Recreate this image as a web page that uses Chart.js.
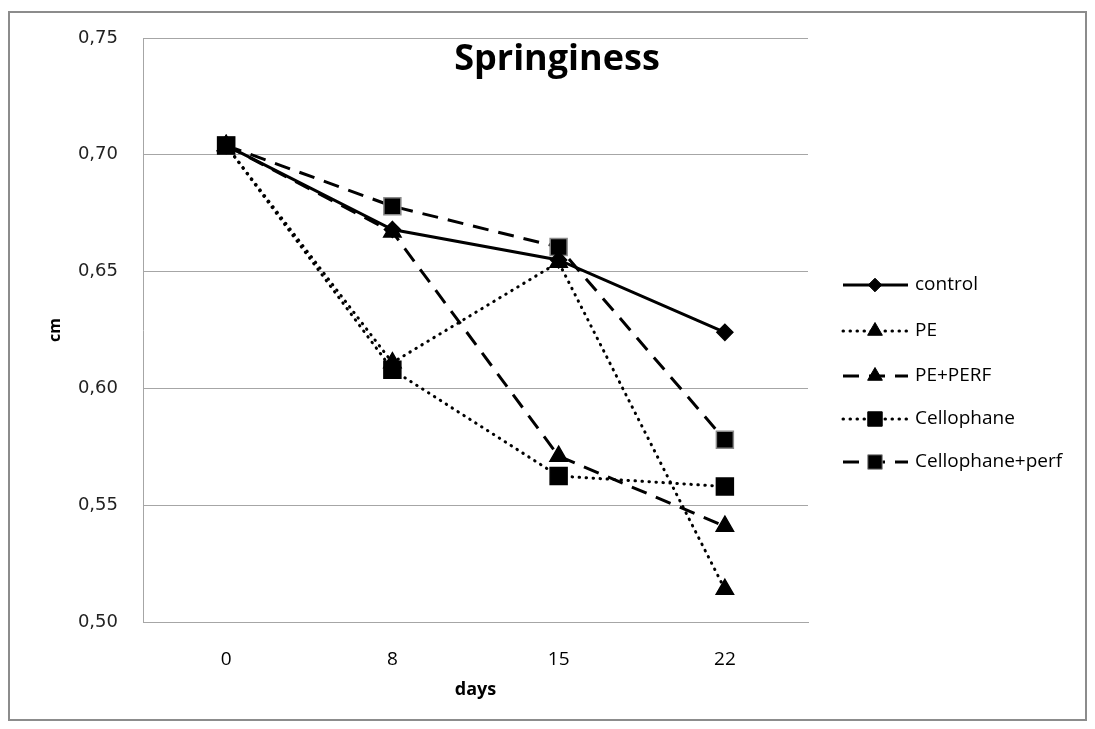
<!DOCTYPE html>
<html>
<head>
<meta charset="utf-8">
<script src="https://cdn.jsdelivr.net/npm/chart.js@4"></script>
<style>
  html, body { margin: 0; padding: 0; background: #fff; overflow: hidden; }
  #wrap { position: relative; width: 1095px; height: 729px; }
</style>
</head>
<body>
<div id="wrap"><canvas id="springiness" width="1095" height="729"></canvas></div>
<script>
    // Data

    const days = ['0', '8', '15', '22'];
    const control = [0.704, 0.668, 0.655, 0.624];
    const pe = [0.704, 0.611, 0.654, 0.514];
    const pePerf = [0.704, 0.667, 0.571, 0.541];
    const cellophane = [0.704, 0.608, 0.5625, 0.558];
    const cellophanePerf = [0.704, 0.678, 0.6605, 0.578];
    const seriesNames = ['control', 'PE', 'PE+PERF', 'Cellophane', 'Cellophane+perf'];
    const yMin = 0.5;
    const yMax = 0.75;
    const yStep = 0.05;

    const gridColor = '#a6a6a6';
    const dotted = [0.5, 6.5];
    const dashed = [16, 10];

    function series(label, data, dash, style, radius, edge) {
        return {
            label: label,
            data: data,
            borderColor: '#000',
            borderWidth: 3,
            borderDash: dash,
            borderCapStyle: dash === dotted ? 'round' : 'butt',
            tension: 0,
            pointStyle: style,
            pointRadius: radius,
            pointHoverRadius: radius,
            pointBackgroundColor: '#000',
            pointBorderColor: edge,
            pointBorderWidth: 1.5
        };
    }

    // Plot frame, title and legend drawn straight on the canvas

    const frame = {
        id: 'frame',
        beforeDraw(chart) {
            const ctx = chart.ctx;
            ctx.save();
            ctx.strokeStyle = '#8c8c8c';
            ctx.lineWidth = 2;
            ctx.strokeRect(9, 12, 1077, 708);
            ctx.restore();
        }
    };

    const titleAndLegend = {
        id: 'titleAndLegend',
        afterDraw(chart) {
            const ctx = chart.ctx;
            ctx.save();
            ctx.fillStyle = '#000';
            ctx.font = 'bold 36px "Open Sans"';
            ctx.textAlign = 'center';
            ctx.textBaseline = 'middle';
            ctx.fillText('Springiness', 557, 60);

            const rows = [285, 331, 376, 419, 462];
            chart.data.datasets.forEach((ds, i) => {
                const y = rows[i];
                ctx.save();
                ctx.strokeStyle = '#000';
                ctx.lineWidth = 3;
                ctx.lineCap = ds.borderCapStyle;
                ctx.setLineDash(ds.borderDash);
                ctx.beginPath();
                ctx.moveTo(843, y);
                ctx.lineTo(908, y);
                ctx.stroke();
                ctx.restore();
                ctx.save();
                ctx.fillStyle = '#000';
                ctx.strokeStyle = ds.pointBorderColor;
                Chart.helpers.drawPoint(ctx, {
                    pointStyle: ds.pointStyle,
                    radius: ds.pointRadius * 0.85,
                    rotation: 0,
                    borderWidth: 1
                }, 875, y);
                ctx.restore();
                ctx.fillStyle = '#000';
                ctx.font = '19px "Open Sans"';
                ctx.textAlign = 'left';
                ctx.textBaseline = 'middle';
                ctx.fillText(ds.label, 915, y);
            });
            ctx.restore();
        }
    };

    new Chart(document.getElementById('springiness'), {
        type: 'line',
        data: {
            labels: days,
            datasets: [
                series(seriesNames[0], control, [], 'rectRot', 8, '#000'),
                series(seriesNames[1], pe, dotted, 'triangle', 10, '#000'),
                series(seriesNames[2], pePerf, dashed, 'triangle', 10, '#000'),
                series(seriesNames[3], cellophane, dotted, 'rect', 12, '#000'),
                series(seriesNames[4], cellophanePerf, dashed, 'rect', 12, '#8a8a8a')
            ]
        },
        options: {
            responsive: false,
            animation: false,
            layout: {
                padding: { left: 0, right: 287, top: 38, bottom: 0 }
            },
            plugins: {
                legend: { display: false },
                tooltip: { enabled: false }
            },
            scales: {
                x: {
                    offset: true,
                    grid: { display: false },
                    border: { display: true, color: gridColor, width: 1 },
                    ticks: {
                        color: '#000',
                        padding: 18,
                        font: { family: 'Open Sans', size: 19 }
                    },
                    title: {
                        display: true,
                        text: 'days',
                        color: '#000',
                        font: { family: 'Open Sans', size: 18, weight: 'bold' },
                        padding: { top: 0, bottom: 28 }
                    },
                    afterFit(scale) { scale.height = 107; }
                },
                y: {
                    min: yMin,
                    max: yMax,
                    grid: { color: gridColor, drawTicks: false },
                    border: { display: true, color: gridColor, width: 1 },
                    ticks: {
                        stepSize: yStep,
                        color: '#222',
                        padding: 25,
                        font: { family: 'DejaVu Sans', size: 18 },
                        callback: v => v.toFixed(2).replace('.', ',')
                    },
                    title: {
                        display: true,
                        text: 'cm',
                        color: '#000',
                        font: { family: 'Open Sans', size: 16, weight: 'bold' },
                        padding: { top: 46, bottom: 0 }
                    },
                    afterFit(scale) { scale.width = 143; }
                }
            }
        },
        plugins: [frame, titleAndLegend]
    });
</script>
</body>
</html>
